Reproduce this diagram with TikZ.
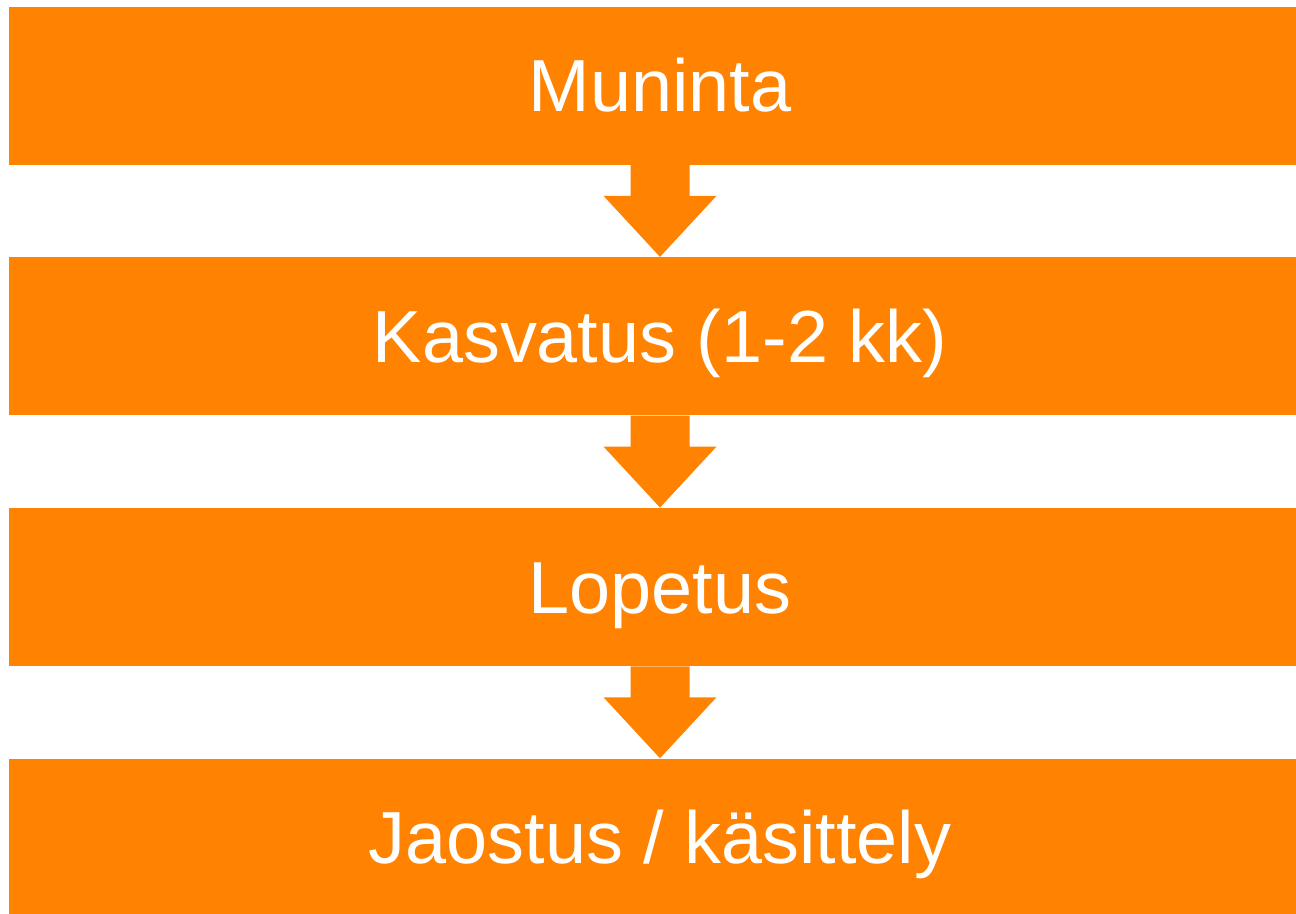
\documentclass[tikz,border=0pt]{standalone}
\usepackage{fontspec}
\setmainfont{Liberation Sans}
\usetikzlibrary{positioning}
\definecolor{orng}{RGB}{255,130,0}

\tikzset{
  stage/.style={fill=orng,text=white,minimum width=26.04cm,minimum height=3.16cm,
    inner sep=0pt,font=\fontsize{42}{50}\selectfont,text height=30pt,text depth=0pt},
  flow/.style={fill=orng}
}
\newcommand{\flowarrow}[2]{%
  \fill[flow] ([xshift=-0.59cm]#1.south) -- ++(0,-0.62) -- ++(-0.54,0) -- (#2.north)
    -- ([xshift=1.13cm,yshift=-0.62cm]#1.south) -- ++(-0.54,0) -- ([xshift=0.59cm]#1.south) -- cycle;}

\begin{document}
\begin{tikzpicture}
\useasboundingbox (0,0) rectangle (25.92,-18.26);
\node[stage] (muninta) at (13.2,-1.71) {Muninta};
\node[stage,below=1.84cm of muninta] (kasvatus) {Kasvatus (1-2 kk)};
\node[stage,below=1.84cm of kasvatus] (lopetus) {Lopetus};
\node[stage,below=1.84cm of lopetus] (jaostus) {Jaostus / käsittely};
% nuolet
\flowarrow{muninta}{kasvatus}
\flowarrow{kasvatus}{lopetus}
\flowarrow{lopetus}{jaostus}
\end{tikzpicture}
\end{document}
